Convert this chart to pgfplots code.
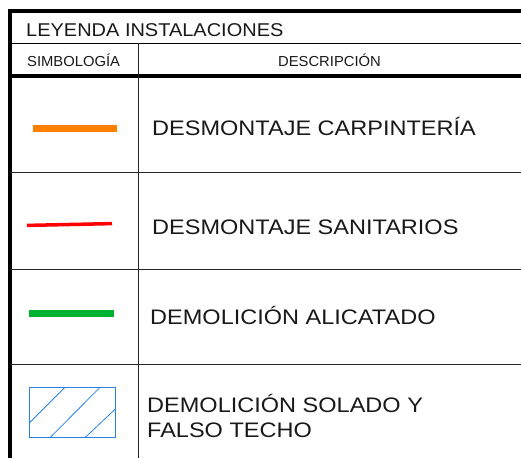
\documentclass[border=0pt]{standalone}
\usepackage{pgfplots}
\pgfplotsset{compat=1.18}
\usepackage{fontspec}
\setmainfont{Liberation Sans}
\newfontfamily\descfont[FakeStretch=1.12]{Liberation Sans}
\newfontfamily\titfont[FakeStretch=1.08]{Liberation Sans}
\newfontfamily\hdrfont[FakeStretch=1.02]{Liberation Sans}
\definecolor{cOrange}{RGB}{255,128,0}
\definecolor{cRed}{RGB}{255,0,0}
\definecolor{cGreen}{RGB}{0,178,50}
\definecolor{cBlue}{RGB}{40,130,230}
\definecolor{cTxt}{RGB}{25,25,25}
\begin{document}
\begin{tikzpicture}
\begin{axis}[
  scale only axis, width=521pt, height=458pt,
  xmin=0, xmax=521, ymin=0, ymax=458, y dir=reverse,
  hide axis, clip=true,
  every axis plot/.append style={line cap=butt},
]
% full extent (invisible)
\addplot[draw=none, forget plot] coordinates {(0,0) (521,0) (521,458) (0,458) (0,0)};
% table frame
\addplot[black, line width=4pt] coordinates {(10,458) (10,11.3) (521,11.3)};
\addplot[black, line width=1pt] coordinates {(10,43.3) (521,43.3)};
\addplot[black, line width=4pt] coordinates {(10,76) (521,76)};
\addplot[black!85, line width=1pt] coordinates {(138.3,43.3) (138.3,458)};
\addplot[black!85, line width=1pt] coordinates {(10,172.3) (521,172.3)};
\addplot[black!85, line width=1pt] coordinates {(10,269) (521,269)};
\addplot[black!85, line width=1pt] coordinates {(10,364.5) (521,364.5)};
% symbols
\addplot[cOrange, line width=7pt] coordinates {(33,128) (117,128)};
\addplot[cRed, line width=3.5pt] coordinates {(27,225.4) (112,223.6)};
\addplot[cGreen, line width=7pt] coordinates {(29,313.3) (114,313.3)};
\addplot[cBlue, line width=1pt] coordinates {(29,387.3) (115,387.3) (115,437.7) (29,437.7) (29,387.3)};
\addplot[cBlue, line width=0.8pt] coordinates {(29,423.3) (65,387.3)};
\addplot[cBlue, line width=0.8pt] coordinates {(50,437.7) (100,387.3)};
\addplot[cBlue, line width=0.8pt] coordinates {(85,437.7) (115,409.3)};
% texts
\node[anchor=base west, inner sep=0pt, text=cTxt, font=\titfont\fontsize{18.5}{20}\selectfont] at (axis cs:26,36) {LEYENDA INSTALACIONES};
\node[anchor=base west, inner sep=0pt, text=cTxt, font=\hdrfont\fontsize{14.5}{16}\selectfont] at (axis cs:27,66.7) {SIMBOLOGÍA};
\node[anchor=base, inner sep=0pt, text=cTxt, font=\hdrfont\fontsize{14.5}{16}\selectfont] at (axis cs:329.5,66.7) {DESCRIPCIÓN};
\node[anchor=base west, inner sep=0pt, text=cTxt, font=\descfont\fontsize{21}{23}\selectfont] at (axis cs:152,135) {DESMONTAJE CARPINTERÍA};
\node[anchor=base west, inner sep=0pt, text=cTxt, font=\descfont\fontsize{21}{23}\selectfont] at (axis cs:152,234) {DESMONTAJE SANITARIOS};
\node[anchor=base west, inner sep=0pt, text=cTxt, font=\descfont\fontsize{21}{23}\selectfont] at (axis cs:150,324) {DEMOLICIÓN ALICATADO};
\node[anchor=base west, inner sep=0pt, text=cTxt, font=\descfont\fontsize{21}{23}\selectfont] at (axis cs:147,412.3) {DEMOLICIÓN SOLADO Y};
\node[anchor=base west, inner sep=0pt, text=cTxt, font=\descfont\fontsize{21}{23}\selectfont] at (axis cs:147,437.3) {FALSO TECHO};
\end{axis}
\end{tikzpicture}
\end{document}
